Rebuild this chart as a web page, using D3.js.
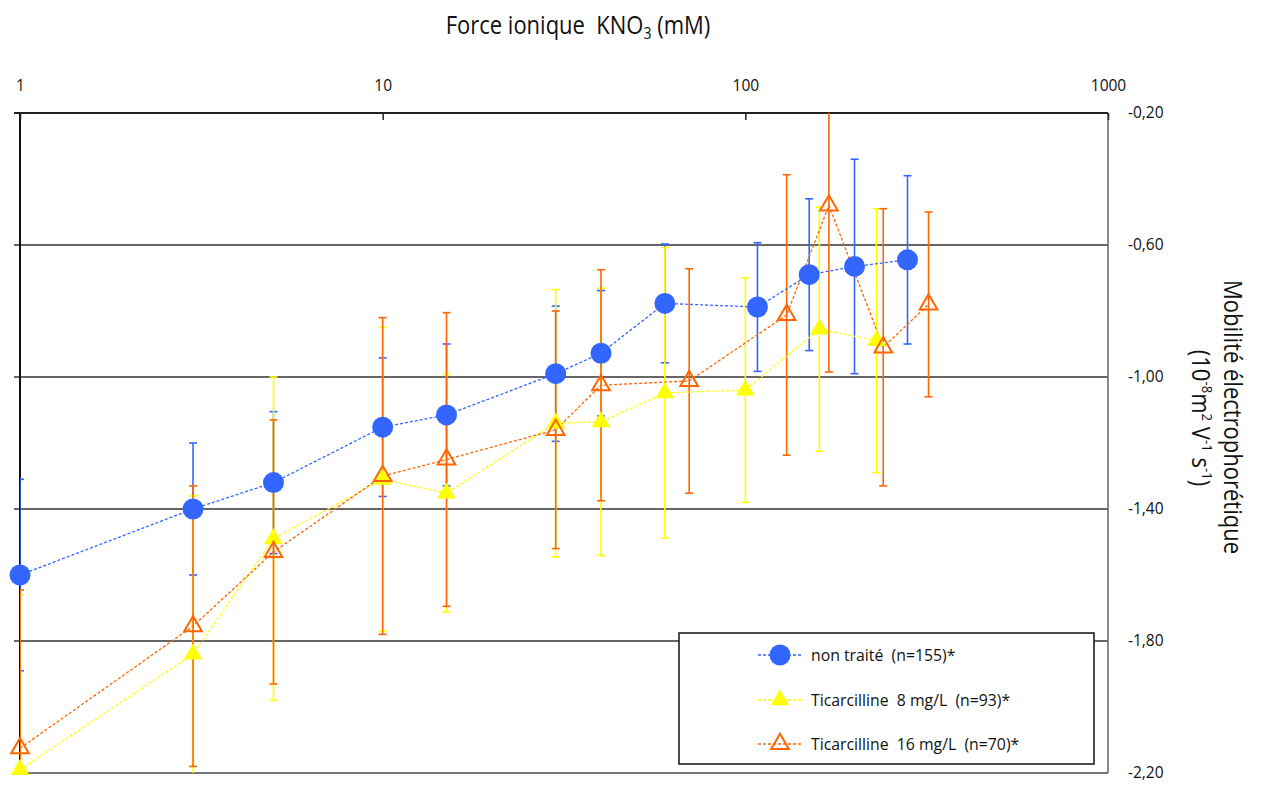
<!DOCTYPE html>
<html>
<head>
<meta charset="utf-8">
<script src="https://cdn.jsdelivr.net/npm/d3@7"></script>
<style>
  html, body { margin: 0; padding: 0; background: #fff; }
  svg { display: block; font-family: "Open Sans", "Noto Sans", sans-serif; }
  .pre { white-space: pre; }
</style>
</head>
<body>
<svg id="chart" width="1262" height="787"></svg>
<script>
// ---------------- DATA ----------------
const xTickValues = [1, 10, 100, 1000];
const yTickValues = [-0.2, -0.6, -1.0, -1.4, -1.8, -2.2];

const seriesNames = ["non traité  (n=155)*", "Ticarcilline  8 mg/L  (n=93)*", "Ticarcilline  16 mg/L  (n=70)*"];

const ionicNonTraite = [1, 3, 5, 10, 15, 30, 40, 60, 108, 150, 200, 280];
const mobNonTraite   = [-1.60, -1.40, -1.32, -1.152, -1.115, -0.99, -0.928, -0.777, -0.788, -0.69, -0.665, -0.645];
const errNonTraite   = [0.29, 0.20, 0.215, 0.21, 0.215, 0.205, 0.19, 0.18, 0.195, 0.23, 0.325, 0.255];

const ionicTic8 = [1, 3, 5, 10, 15, 30, 40, 60, 100, 160, 230];
const mobTic8   = [-2.19, -1.84, -1.49, -1.31, -1.352, -1.14, -1.136, -1.048, -1.04, -0.855, -0.89];
const errTic8   = [0.53, 0.48, 0.49, 0.46, 0.36, 0.405, 0.405, 0.44, 0.34, 0.37, 0.40];

const ionicTic16 = [1, 3, 5, 10, 15, 30, 40, 70, 130, 170, 240, 320];
const mobTic16   = [-2.125, -1.755, -1.53, -1.30, -1.25, -1.16, -1.025, -1.012, -0.812, -0.48, -0.91, -0.78];
const errTic16   = [0.48, 0.425, 0.40, 0.48, 0.445, 0.36, 0.35, 0.34, 0.425, 0.505, 0.42, 0.28];

// ---------------- LAYOUT ----------------
const plot = { left: 20, right: 1108, top: 113, bottom: 773 };
const colors = ["#3366ff", "#ffff00", "#ff6600"];

const svg = d3.select("#chart");
const x = d3.scaleLog().domain([1, 1000]).range([plot.left, plot.right]);
const y = d3.scaleLinear().domain([-2.2, -0.2]).range([plot.bottom, plot.top]);

const series = [
  { name: seriesNames[0], xs: ionicNonTraite, ys: mobNonTraite, es: errNonTraite, color: colors[0], marker: "circle" },
  { name: seriesNames[1], xs: ionicTic8, ys: mobTic8, es: errTic8, color: colors[1], marker: "tri" },
  { name: seriesNames[2], xs: ionicTic16, ys: mobTic16, es: errTic16, color: colors[2], marker: "opentri" }
].map(s => ({ ...s, pts: s.xs.map((v, i) => ({ x: v, y: s.ys[i], e: s.es[i] })) }));

svg.append("defs").append("clipPath").attr("id", "clip")
  .append("rect").attr("x", plot.left).attr("y", plot.top)
  .attr("width", plot.right - plot.left).attr("height", plot.bottom - plot.top);

// gridlines
svg.append("g").attr("class", "grid")
  .selectAll("line").data(yTickValues.filter(v => v > -2.2 && v < -0.2)).join("line")
  .attr("x1", plot.left - 6).attr("x2", plot.right)
  .attr("y1", d => y(d)).attr("y2", d => y(d))
  .attr("stroke", "#333").attr("stroke-width", 1.5);

// frame
svg.append("line").attr("x1", plot.left).attr("x2", plot.right).attr("y1", plot.bottom).attr("y2", plot.bottom)
  .attr("stroke", "#777").attr("stroke-width", 2);
svg.append("line").attr("x1", plot.right).attr("x2", plot.right).attr("y1", plot.top).attr("y2", plot.bottom)
  .attr("stroke", "#666").attr("stroke-width", 1.5);
svg.append("line").attr("x1", plot.left).attr("x2", plot.left).attr("y1", plot.top).attr("y2", plot.bottom)
  .attr("stroke", "#111").attr("stroke-width", 2);

// top axis
const xAxis = d3.axisTop(x).tickValues(xTickValues).tickFormat(d3.format("d"))
  .tickSizeInner(-7).tickSizeOuter(0).tickPadding(22);
const gx = svg.append("g").attr("transform", `translate(0,${plot.top})`).call(xAxis);
gx.select(".domain").attr("stroke", "#222").attr("stroke-width", 2).attr("d", `M${plot.left - 6},0H${plot.right}`);
gx.selectAll(".tick line").attr("stroke", "#222").attr("stroke-width", 1.5);
gx.selectAll(".tick text").attr("font-size", 15.5).attr("fill", "#111").attr("font-family", "Open Sans");

// right axis labels
const yAxis = d3.axisRight(y).tickValues(yTickValues)
  .tickSize(0).tickPadding(20).tickFormat(d => d3.format(".2f")(d).replace(".", ",").replace("−", "-"));
const gy = svg.append("g").attr("transform", `translate(${plot.right},0)`).call(yAxis);
gy.select(".domain").remove();
gy.selectAll(".tick text").attr("font-size", 15.5).attr("fill", "#111").attr("font-family", "Open Sans");

// title
const title = svg.append("text").attr("class", "pre").attr("transform", "translate(578,34) scale(0.88,1)")
  .attr("text-anchor", "middle").attr("font-size", 25).attr("fill", "#111");
title.append("tspan").text("Force ionique  KNO");
title.append("tspan").attr("font-size", 16).attr("baseline-shift", "-30%").text("3");
title.append("tspan").text(" (mM)");

// right axis title
svg.append("text").attr("transform", "translate(1224,417) rotate(90) scale(0.88,1)")
  .attr("text-anchor", "middle").attr("font-size", 25).attr("fill", "#111")
  .text("Mobilité électrophorétique");
const yt2 = svg.append("text").attr("transform", "translate(1192,418) rotate(90) scale(0.88,1)")
  .attr("text-anchor", "middle").attr("font-size", 25).attr("fill", "#111");
yt2.append("tspan").text("(10");
yt2.append("tspan").attr("font-size", 15).attr("baseline-shift", "super").text("-8");
yt2.append("tspan").text("m");
yt2.append("tspan").attr("font-size", 15).attr("baseline-shift", "super").text("2");
yt2.append("tspan").text(" V");
yt2.append("tspan").attr("font-size", 15).attr("baseline-shift", "super").text("-1");
yt2.append("tspan").text(" s");
yt2.append("tspan").attr("font-size", 15).attr("baseline-shift", "super").text("-1");
yt2.append("tspan").text(")");

// error bars
const eb = svg.append("g").attr("clip-path", "url(#clip)");
series.forEach(s => {
  const g = eb.append("g").attr("stroke", s.color).attr("stroke-width", 1.6);
  g.selectAll("line.v").data(s.pts).join("line").attr("class", "v")
    .attr("x1", d => x(d.x)).attr("x2", d => x(d.x))
    .attr("y1", d => y(d.y + d.e)).attr("y2", d => y(d.y - d.e));
  g.selectAll("line.t").data(s.pts).join("line").attr("class", "t")
    .attr("x1", d => x(d.x) - 4).attr("x2", d => x(d.x) + 4)
    .attr("y1", d => y(d.y + d.e)).attr("y2", d => y(d.y + d.e));
  g.selectAll("line.b").data(s.pts).join("line").attr("class", "b")
    .attr("x1", d => x(d.x) - 4).attr("x2", d => x(d.x) + 4)
    .attr("y1", d => y(d.y - d.e)).attr("y2", d => y(d.y - d.e));
});

// lines
const lineGen = d3.line().x(d => x(d.x)).y(d => y(d.y));
series.forEach(s => {
  svg.append("path").datum(s.pts).attr("d", lineGen)
    .attr("fill", "none").attr("stroke", s.color).attr("stroke-width", 1.3)
    .attr("stroke-dasharray", "3,2");
});

// markers
const triPath = d3.symbol().type(d3.symbolTriangle).size(150)();
const openTriPath = d3.symbol().type(d3.symbolTriangle).size(135)();
function drawMarker(g, s, cx, cy) {
  if (s.marker === "circle") {
    g.append("circle").attr("cx", cx).attr("cy", cy).attr("r", 10.5).attr("fill", s.color);
  } else if (s.marker === "tri") {
    g.append("path").attr("d", triPath).attr("transform", `translate(${cx},${cy})`).attr("fill", s.color);
  } else {
    g.append("path").attr("d", openTriPath).attr("transform", `translate(${cx},${cy})`)
      .attr("fill", "none").attr("stroke", s.color).attr("stroke-width", 2);
  }
}
series.forEach(s => {
  const g = svg.append("g");
  s.pts.forEach(p => drawMarker(g, s, x(p.x), y(p.y)));
});

// legend
const lg = svg.append("g");
lg.append("rect").attr("x", 679).attr("y", 633).attr("width", 415).attr("height", 131)
  .attr("fill", "#fff").attr("stroke", "#111").attr("stroke-width", 1.5);
const rowY = [655, 700, 744];
series.forEach((s, i) => {
  lg.append("line").attr("x1", 758).attr("x2", 803).attr("y1", rowY[i]).attr("y2", rowY[i])
    .attr("stroke", s.color).attr("stroke-width", 1.3).attr("stroke-dasharray", "3,2");
  drawMarker(lg, s, 780, rowY[i]);
  lg.append("text").attr("class", "pre").attr("transform", `translate(811,${rowY[i]}) scale(0.93,1)`)
    .attr("dy", "0.35em").attr("font-size", 17).attr("fill", "#111")
    .text(s.name);
});
</script>
</body>
</html>
